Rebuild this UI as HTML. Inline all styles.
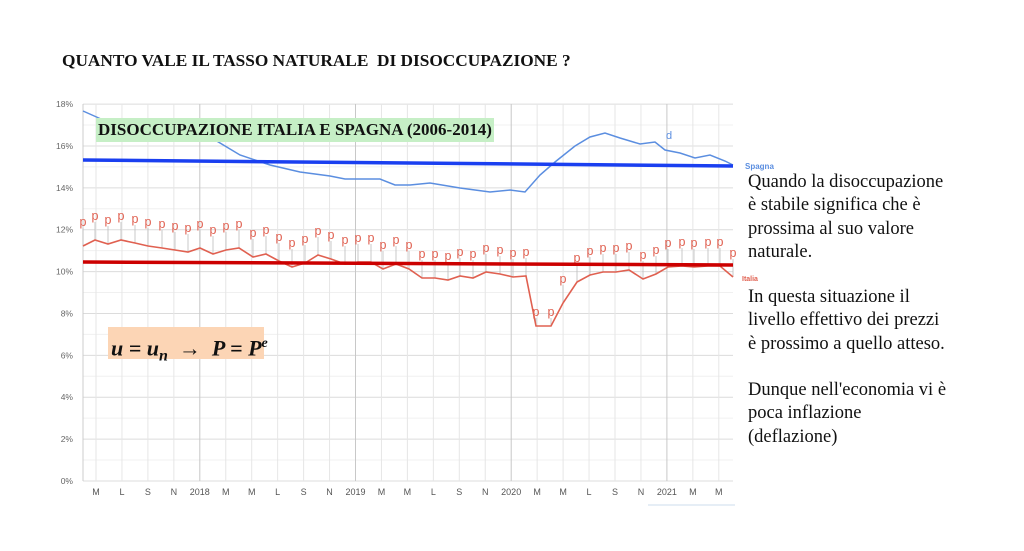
<!DOCTYPE html>
<html><head><meta charset="utf-8">
<style>
html,body{margin:0;padding:0;background:#fff;}
body{width:1024px;height:551px;position:relative;overflow:hidden;font-family:"Liberation Sans",sans-serif;}
.t{position:absolute;font-family:"Liberation Serif","DejaVu Serif",serif;color:#111;}
</style></head><body>
<svg id="s" width="1024" height="551" style="position:absolute;left:0;top:0">
<g id="grid"></g>
<g id="data"></g>
</svg>
<div class="t" style="left:62px;top:51px;font-size:17.3px;font-weight:bold;white-space:nowrap;">QUANTO VALE IL TASSO NATURALE&nbsp; DI DISOCCUPAZIONE ?</div>
<div class="t" style="left:96px;top:118px;width:398px;height:24px;background:#c6efc6;font-size:17px;font-weight:bold;line-height:24px;padding-left:2px;box-sizing:border-box;white-space:nowrap;">DISOCCUPAZIONE ITALIA E SPAGNA (2006-2014)</div>
<div class="t" style="left:108px;top:327px;width:156px;height:32px;background:#fcd5b5;font-size:22px;font-weight:bold;font-style:italic;line-height:34px;padding-left:3px;box-sizing:border-box;white-space:nowrap;">u = u<sub style="font-size:16px">n</sub> &nbsp;<span style="font-style:normal;font-weight:normal">→</span>&nbsp; P = P<sup style="font-size:14px">e</sup></div>
<div class="t" style="left:748px;top:171px;font-size:18.5px;line-height:23.3px;">Quando la disoccupazione<br>è stabile significa che è<br>prossima al suo valore<br>naturale.</div>
<div class="t" style="left:748px;top:286px;font-size:18.5px;line-height:23.3px;">In questa situazione il<br>livello effettivo dei prezzi<br>è prossimo a quello atteso.<br><br>Dunque nell'economia vi è<br>poca inflazione<br>(deflazione)</div>
<script>
var NS="http://www.w3.org/2000/svg";
function el(p,t,a,txt){var e=document.createElementNS(NS,t);for(var k in a)e.setAttribute(k,a[k]);if(txt!==undefined)e.textContent=txt;p.appendChild(e);return e;}
var g=document.getElementById('grid'),d=document.getElementById('data');
var x0=83,x1=733;
for(var i=0;i<=18;i++){var y=481-i*20.94;el(g,'line',{x1:x0,x2:x1,y1:y,y2:y,stroke:i%2?'#f0f0f0':'#dcdcdc','stroke-width':1});
if(i%2==0)el(g,'text',{x:73,y:y+3,'font-size':8.5,fill:'#666','text-anchor':'end'},i+'%');}
var labs=['M','L','S','N','2018','M','M','L','S','N','2019','M','M','L','S','N','2020','M','M','L','S','N','2021','M','M'];
for(var j=0;j<labs.length;j++){var x=96+j*25.95;var maj=labs[j].length>1;
el(g,'line',{x1:x,x2:x,y1:104,y2:481,stroke:maj?'#c8c8c8':'#e6e6e6','stroke-width':1});
el(g,'text',{x:x,y:495,'font-size':9,fill:'#555','text-anchor':'middle'},labs[j]);}
el(g,'line',{x1:x0,x2:x0,y1:104,y2:481,stroke:'#ccc'});
el(g,'line',{x1:648,x2:735,y1:505,y2:505,stroke:'#cde',});
var b=[[83,111],[110,123],[130,132],[215,140],[240,155],[270,165],[300,172],[330,176],[345,179],[380,179],[395,185],[410,185],[430,183],[460,188],[490,192],[510,190],[525,192],[540,175],[555,162],[575,146],[590,137],[605,133],[620,138],[640,144],[655,142],[665,150],[680,153],[695,158],[710,155],[725,161],[733,165]];
el(d,'polyline',{points:b.join(' '),fill:'none',stroke:'#5b8ee0','stroke-width':1.5});
el(d,'text',{x:669,y:139,'font-size':11,fill:'#5b8ee0','text-anchor':'middle'},'d');
var r=[[83,246],[95,240],[108,244],[121,240],[135,243],[148,246],[162,248],[175,250],[188,252],[200,248],[213,254],[226,250],[239,248],[253,257],[266,254],[279,261],[292,267],[305,263],[318,255],[331,259],[345,264],[358,262],[371,262],[383,269],[396,264],[409,269],[422,278],[435,278],[448,280],[460,276],[473,278],[486,272],[500,274],[513,277],[526,276],[536,326],[551,326],[563,303],[577,282],[590,275],[603,272],[616,272],[629,270],[643,279],[656,274],[668,267],[682,266],[694,267],[708,266],[720,266],[733,277]];
r.forEach(function(p,i){var ty=p[1]-20;if(i>=35&&i<=36)ty=p[1]-10;
el(d,'line',{x1:p[0],x2:p[0],y1:ty+2,y2:p[1],stroke:'#bbb','stroke-width':0.8});
el(d,'text',{x:p[0],y:ty,'font-size':12.5,fill:'#e06050','text-anchor':'middle'},'p');});
el(d,'polyline',{points:r.join(' '),fill:'none',stroke:'#e06050','stroke-width':1.6});
el(d,'line',{x1:83,y1:160,x2:733,y2:166,stroke:'#1a3ff0','stroke-width':3.5});
el(d,'line',{x1:83,y1:262,x2:733,y2:265,stroke:'#cc0000','stroke-width':3.5});
el(d,'text',{x:745,y:169,'font-size':8,'font-weight':'bold',fill:'#5b8ee0'},'Spagna');
el(d,'text',{x:742,y:281,'font-size':7,'font-weight':'bold',fill:'#e06050'},'Italia');
</script>
</body></html>
